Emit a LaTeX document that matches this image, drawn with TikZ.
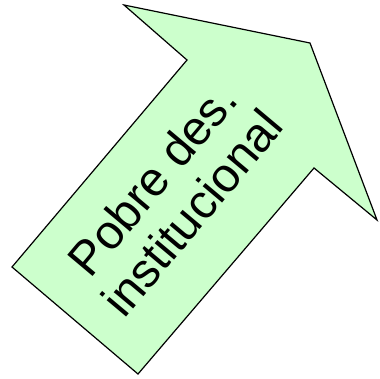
\documentclass[tikz,border=0pt]{standalone}
\usepackage{fontspec}
\setmainfont{Liberation Sans}
\begin{document}
\begin{tikzpicture}[x=1pt,y=-1pt,
  arrowshape/.style={draw=black, fill={rgb,255:red,204;green,255;blue,204}, line width=1.2pt, line join=miter},
  lbl/.style={align=center, font=\fontsize{48}{52}\selectfont, rotate=50, inner sep=0pt}]
\useasboundingbox (0,0) rectangle (379,379);
\draw[arrowshape] (310,43) -- (124,5) -- (187,60) -- (12,267) -- (138,374) -- (314,168) -- (377,220) -- cycle;
\node[lbl] (t) at (172,196) {Pobre des.\\institucional};
\end{tikzpicture}
\end{document}
